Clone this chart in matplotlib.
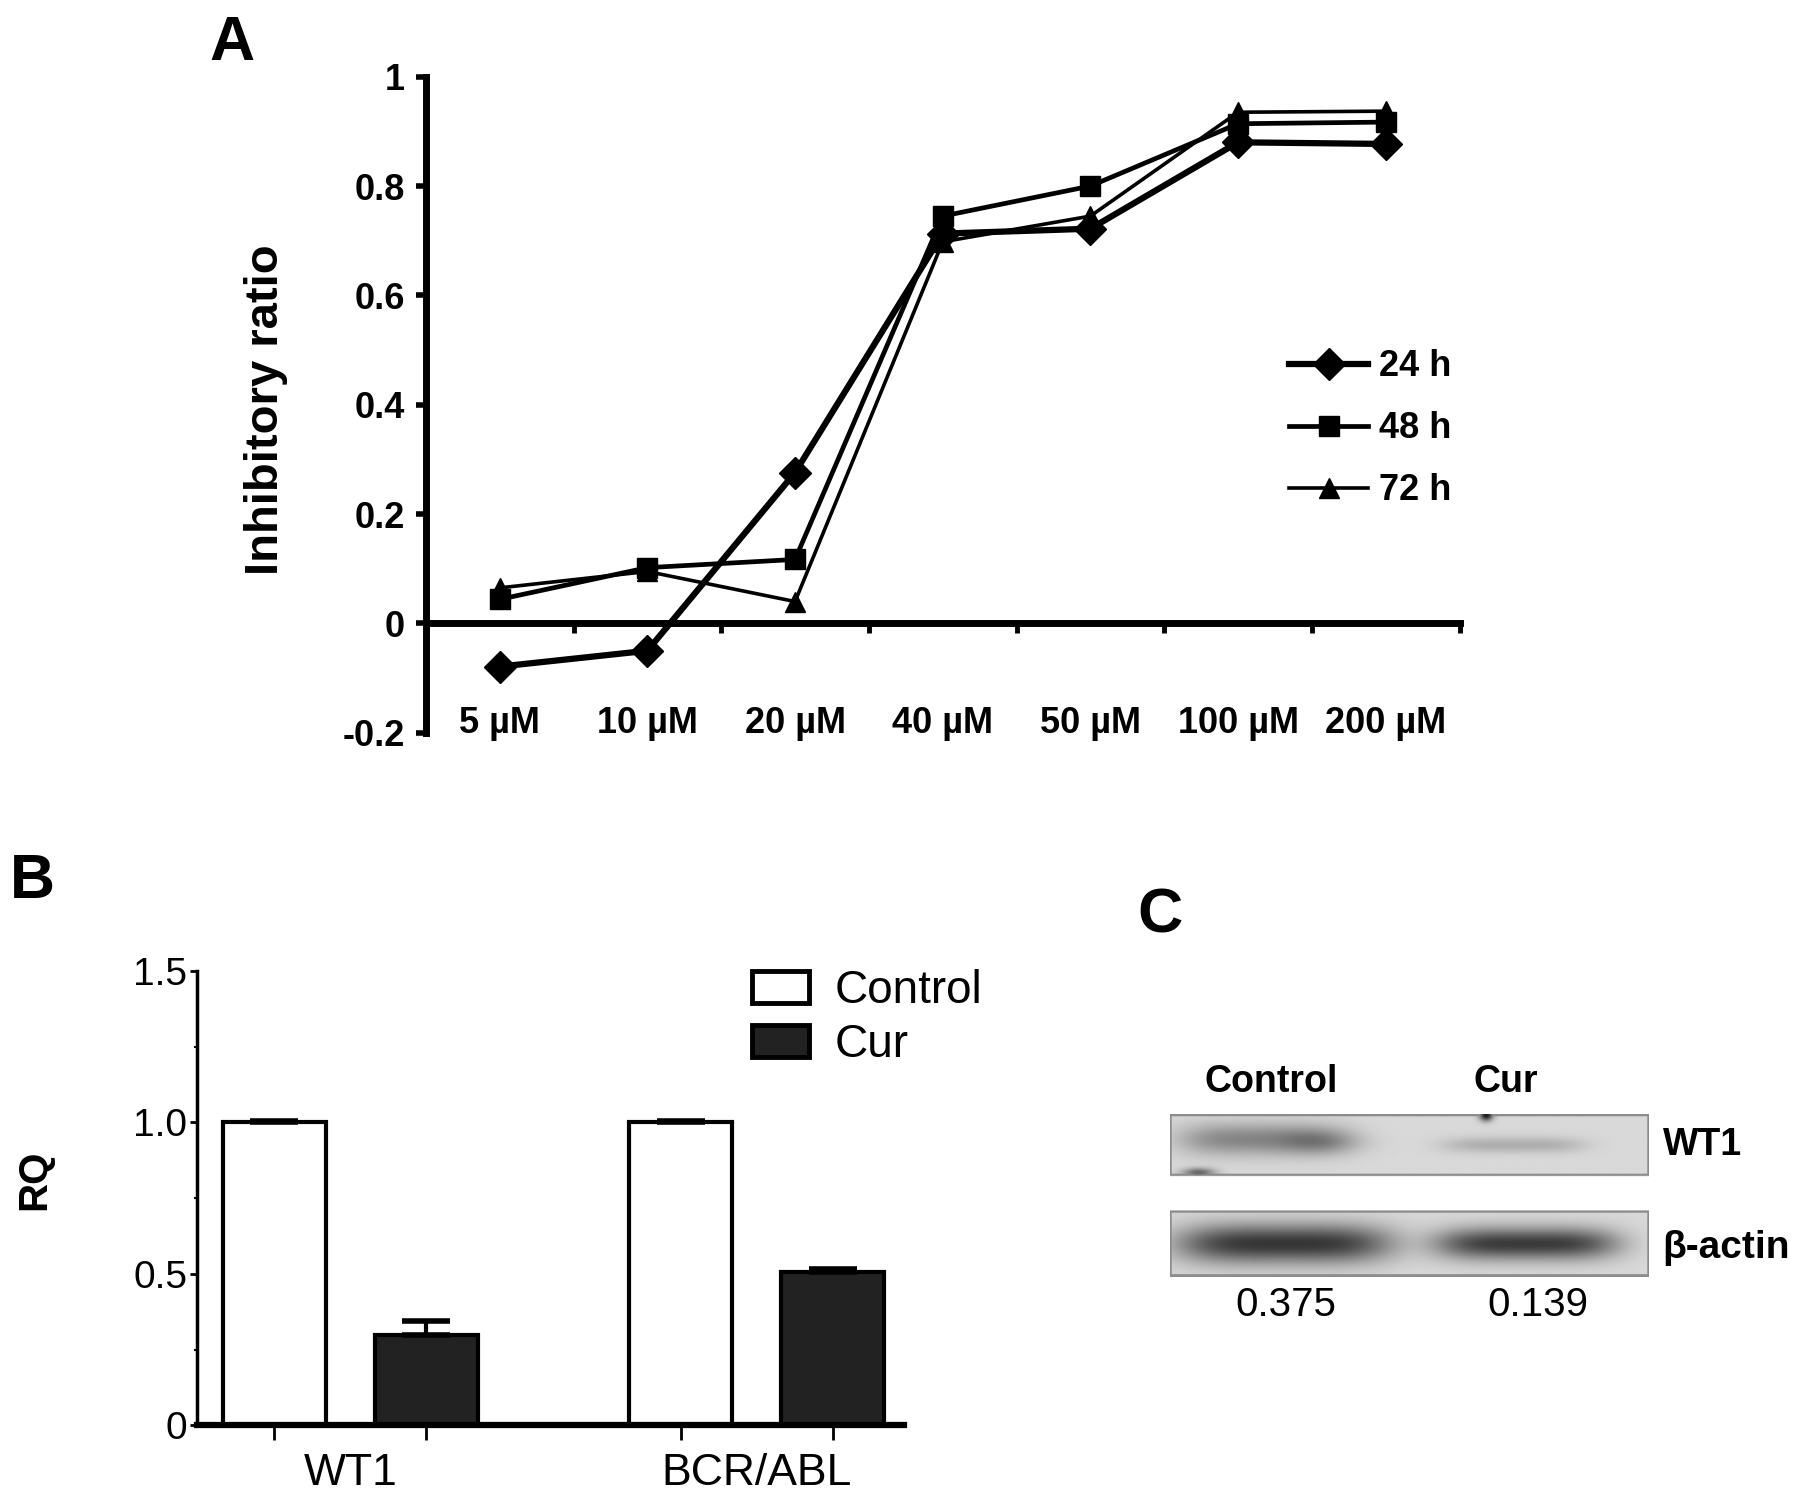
import numpy as np
import matplotlib
matplotlib.use("Agg")
import matplotlib.pyplot as plt
from matplotlib.patches import Patch

plt.rcParams['font.family'] = ['Liberation Sans', 'DejaVu Sans']

# ---------------- data ----------------
concentrations = ["5 µM", "10 µM", "20 µM", "40 µM", "50 µM", "100 µM", "200 µM"]
ratio_24h = [-0.079, -0.050, 0.276, 0.713, 0.722, 0.880, 0.877]
ratio_48h = [0.044, 0.102, 0.117, 0.745, 0.800, 0.914, 0.917]
ratio_72h = [0.065, 0.095, 0.040, 0.698, 0.745, 0.935, 0.937]
series_labels = ["24 h", "48 h", "72 h"]

genes = ["WT1", "BCR/ABL"]
rq_control = [1.0, 1.0]
rq_cur = [0.30, 0.505]
rq_control_err = [0.006, 0.006]
rq_cur_err = [0.045, 0.012]
group_labels = ["Control", "Cur"]

blot_lanes = ["Control", "Cur"]
blot_rows = ["WT1", "β-actin"]
blot_ratio = ["0.375", "0.139"]

# ---------------- figure ----------------
W_REF, H_REF = 1568.0, 1311.0
def fx(d):
    return d / W_REF
def fy(d):
    return 1 - d / H_REF

fig = plt.figure(figsize=(17.95, 15.01), dpi=100)

# ---------------- panel A ----------------
axA = fig.add_axes([fx(372), fy(640), fx(1275) - fx(372), fy(67) - fy(640)])
x = np.arange(len(concentrations))
axA.plot(x, ratio_24h, color='black', lw=4.5, marker='D', ms=16, clip_on=False,
         label=series_labels[0], zorder=3)
axA.plot(x, ratio_48h, color='black', lw=3.4, marker='s', ms=15, clip_on=False,
         label=series_labels[1], zorder=3)
axA.plot(x, ratio_72h, color='black', lw=2.6, marker='^', ms=14, clip_on=False,
         label=series_labels[2], zorder=3)
axA.set_xlim(-0.5, 6.5)
axA.set_ylim(-0.2, 1.0)
axA.spines['top'].set_visible(False)
axA.spines['right'].set_visible(False)
axA.spines['bottom'].set_position(('data', 0))
axA.spines['bottom'].set_linewidth(5)
axA.spines['left'].set_linewidth(5)
axA.set_xticks(np.arange(0.5, 7, 1))
axA.set_xticklabels([])
axA.tick_params(axis='x', direction='out', length=7, width=3.5)
yt = [-0.2, 0, 0.2, 0.4, 0.6, 0.8, 1.0]
axA.set_yticks(yt)
axA.set_yticklabels(["-0.2", "0", "0.2", "0.4", "0.6", "0.8", "1"],
                    fontsize=26, fontweight='bold')
axA.tick_params(axis='y', direction='out', length=7, width=4, pad=8)
for i, lab in enumerate(concentrations):
    axA.text(i, -0.183, lab, ha='center', va='center', fontsize=26,
             fontweight='bold')
fig.text(fx(232), fy(358), "Inhibitory ratio", rotation=90, ha='center',
         va='center', fontsize=34, fontweight='bold')
fig.text(fx(203), fy(38), "A", ha='center', va='center', fontsize=45,
         fontweight='bold')
legA = axA.legend(loc='upper left', bbox_to_anchor=(fx(1126), fy(305)),
                  bbox_transform=fig.transFigure, frameon=False,
                  prop={'size': 26, 'weight': 'bold'}, handlelength=2.2,
                  handletextpad=0.3, labelspacing=0.75, borderpad=0,
                  borderaxespad=0)

# ---------------- panel B ----------------
axB = fig.add_axes([fx(172), fy(1245), fx(790) - fx(172), fy(848) - fy(1245)])
gx = np.arange(len(genes))
off = 133.0 / 355.0 / 2
bw = 90.0 / 355.0
axB.bar(gx - off, rq_control, width=bw, color='white', edgecolor='black',
        linewidth=3, label=group_labels[0], zorder=2)
axB.bar(gx + off, rq_cur, width=bw, color='#222222', edgecolor='black',
        linewidth=3, label=group_labels[1], zorder=2)
axB.errorbar(gx - off, rq_control, yerr=[np.zeros(2), rq_control_err], fmt='none',
             ecolor='black', elinewidth=3, capsize=17, capthick=4, zorder=3)
axB.errorbar(gx + off, rq_cur, yerr=[np.zeros(2), rq_cur_err], fmt='none',
             ecolor='black', elinewidth=3, capsize=17, capthick=4, zorder=3)
axB.set_xlim(-0.3775, 1.3634)
axB.set_ylim(0, 1.5)
axB.spines['top'].set_visible(False)
axB.spines['right'].set_visible(False)
axB.spines['left'].set_linewidth(2.5)
axB.spines['bottom'].set_linewidth(4.5)
axB.set_yticks([0, 0.5, 1.0, 1.5])
axB.set_yticklabels(["0", "0.5", "1.0", "1.5"], fontsize=28)
axB.set_yticks([0.25, 0.75, 1.25], minor=True)
axB.tick_params(axis='y', which='major', length=5, width=2, pad=2)
axB.tick_params(axis='y', which='minor', length=2, width=1.5)
axB.set_xticks(gx)
axB.set_xticklabels(genes, fontsize=32)
axB.set_xticks(np.concatenate([gx - off, gx + off]), minor=True)
axB.tick_params(axis='x', which='major', length=0, pad=20)
axB.tick_params(axis='x', which='minor', length=11, width=2)
fig.text(fx(30), fy(1030), "RQ", rotation=90, ha='center', va='center',
         fontsize=29, fontweight='bold')
fig.text(fx(28), fy(770), "B", ha='center', va='center', fontsize=45,
         fontweight='bold')
handles = [Patch(facecolor='white', edgecolor='black', linewidth=3.5),
           Patch(facecolor='#222222', edgecolor='black', linewidth=3.5)]
axB.legend(handles, group_labels, loc='upper left',
           bbox_to_anchor=(fx(657), fy(846)), bbox_transform=fig.transFigure,
           frameon=False, prop={'size': 33}, handlelength=1.25,
           handleheight=0.7, handletextpad=0.55, labelspacing=0.22,
           borderpad=0, borderaxespad=0)

# ---------------- panel C (blot) ----------------
fig.text(fx(1013), fy(800), "C", ha='center', va='center', fontsize=45,
         fontweight='bold')
BW, BH = 418, 142
axC = fig.add_axes([fx(1022), fy(1115), fx(1440) - fx(1022), fy(973) - fy(1115)])
res = 2
xs = (np.arange(BW * res) + 0.5) / res
ys = (np.arange(BH * res) + 0.5) / res
XX, YY = np.meshgrid(xs, ys)
img = np.ones_like(XX)
box1 = (YY >= 0) & (YY <= 54)
box2 = (YY >= 84) & (YY <= 142)
boxes = box1 | box2
img[boxes] = 0.85

def band(cx, cy, wx, wy, amp, p=4):
    return amp * np.exp(-np.abs((XX - cx) / wx) ** p - ((YY - cy) / wy) ** 2)

dark = np.zeros_like(XX)
dark += band(82, 22, 74, 14, 0.33)
dark += band(135, 25, 35, 10, 0.14, p=2)
dark += band(25, 51, 14, 4, 0.45, p=2)
dark += band(300, 27, 62, 7, 0.17)
dark += band(276, 1, 6, 5, 0.75, p=2)
dark += band(100, 113, 94, 17, 0.64)
dark += band(311, 113, 80, 14, 0.62)
img = img - dark * boxes
edge = ((np.abs(YY - 0.8) < 1.2) | (np.abs(YY - 53.5) < 1.5) |
        (np.abs(YY - 84.8) < 1.2) | (np.abs(YY - 141) < 1.5) |
        (XX < 1.5) | (XX > BW - 1.5)) & boxes
img[edge] = np.minimum(img[edge], 0.55)
axC.imshow(np.clip(img, 0, 1), cmap='gray', vmin=0, vmax=1,
           extent=(0, BW, BH, 0), aspect='auto', interpolation='bilinear')
axC.set_axis_off()

lane_x = [1110, 1315]
for lx, lab in zip(lane_x, blot_lanes):
    fig.text(fx(lx), fy(945), lab, ha='center', va='center', fontsize=27,
             fontweight='bold')
fig.text(fx(1453), fy(1000), blot_rows[0], ha='left', va='center',
         fontsize=27, fontweight='bold')
fig.text(fx(1452), fy(1090), blot_rows[1], ha='left', va='center',
         fontsize=28, fontweight='bold')
num_x = [1123, 1343]
for nx, val in zip(num_x, blot_ratio):
    fig.text(fx(nx), fy(1140), val, ha='center', va='center', fontsize=29)

fig.savefig("out.png", dpi=100)
